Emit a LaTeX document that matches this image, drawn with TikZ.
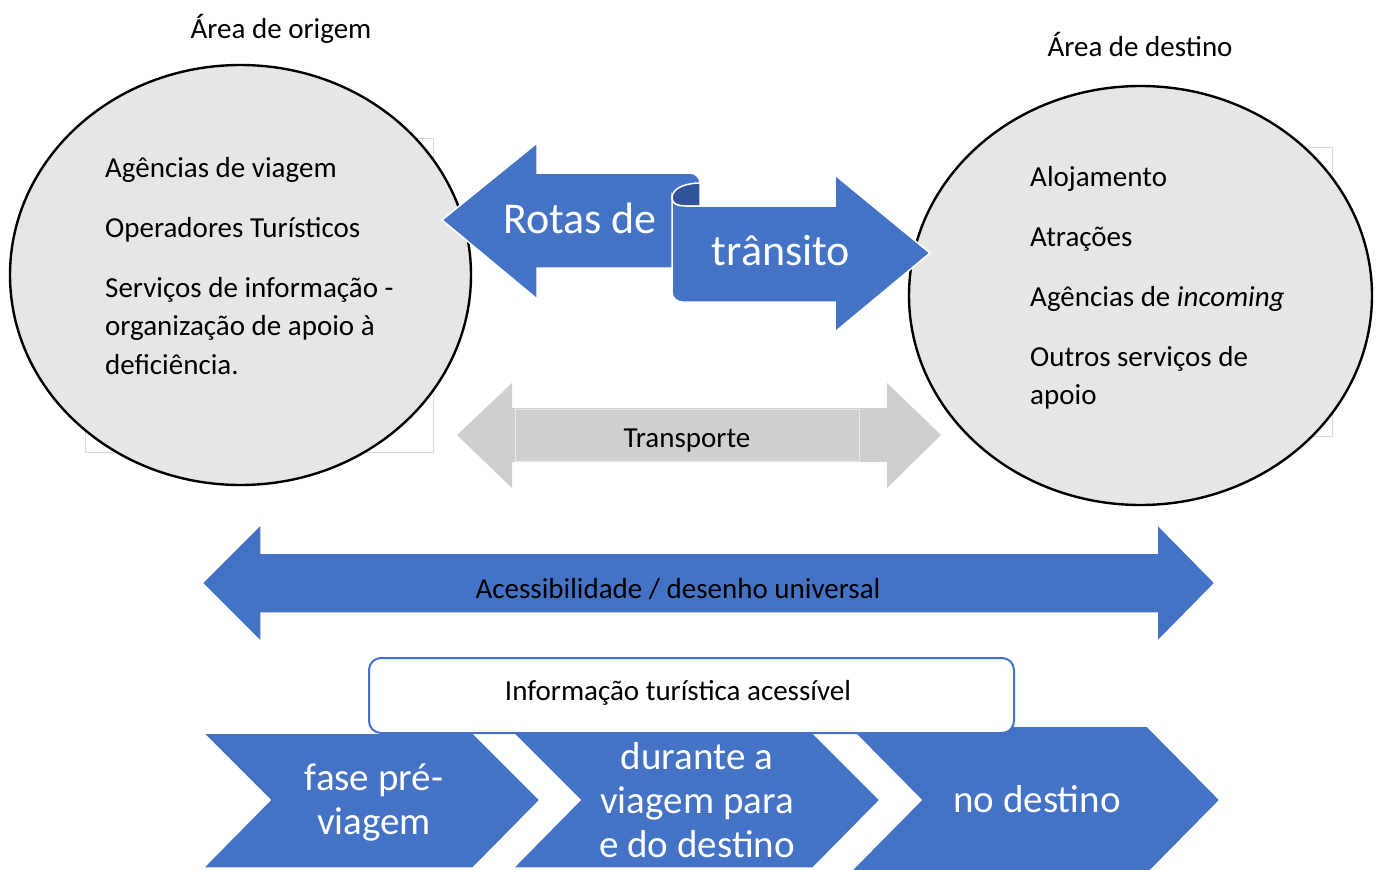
\documentclass[tikz,border=0pt]{standalone}
\usepackage{fontspec}
\setmainfont{Carlito}
\usetikzlibrary{positioning,shapes.geometric,calc}
\definecolor{officeblue}{HTML}{4472C4}
\definecolor{curlblue}{HTML}{30539A}
\definecolor{transgray}{HTML}{D0CECE}
\definecolor{areagray}{HTML}{E7E6E6}
\definecolor{ghostgray}{HTML}{DADADA}

\begin{document}
\begin{tikzpicture}[x=1pt, y=-1pt,
    areadisc/.style={ellipse, draw=black, line width=2.4pt, fill=areagray, inner sep=0pt},
    ghostframe/.style={draw=ghostgray, line width=1pt},
    bluearrow/.style={fill=officeblue, draw=white, line width=1.5pt},
    curlpiece/.style={fill=curlblue, draw=white, line width=1.5pt},
    grayarrow/.style={fill=transgray},
    stepshape/.style={fill=officeblue, draw=white, line width=1.5pt},
    infobox/.style={draw=officeblue, line width=2pt, fill=white, rounded corners=12pt},
    plaintext/.style={font=\fontsize{29}{38}\selectfont, inner sep=0pt},
    item/.style={plaintext, anchor=base west},
    bigtext/.style={font=\fontsize{44}{50}\selectfont, text=white, inner sep=0pt, anchor=base},
    steptext/.style={font=\fontsize{39}{44}\selectfont, text=white, align=center, inner sep=0pt}
]
\useasboundingbox (0,0) rectangle (1379,870);

% the two areas
\draw[ghostframe] (85,138) rectangle (433,452);
\draw[ghostframe] (983,147) rectangle (1332,436);
\node[areadisc, minimum width=461pt, minimum height=420pt] (origem) at (240.5,275) {};
\node[areadisc, minimum width=463pt, minimum height=419pt] (destino) at (1140.5,295.5) {};

\node[plaintext, anchor=base] (origemTitle) at (281,38) {Área de origem};
\node[plaintext, anchor=base] (destinoTitle) at (1140,56) {Área de destino};

\node[item] (agencias) at (105,177) {Agências de viagem};
\node[item] (operadores) at (105,237) {Operadores Turísticos};
\node[item] (servicos) at (105,297) {Serviços de informação -};
\node[item] (organizacao) at (105,335.5) {organização de apoio à};
\node[item] (deficiencia) at (105,374) {deficiência.};

\node[item] (alojamento) at (1030,186) {Alojamento};
\node[item] (atracoes) at (1030,246) {Atrações};
\node[item] (incoming) at (1030,306) {Agências de \textit{incoming}};
\node[item] (outros) at (1030,366) {Outros serviços de};
\node[item] (apoio) at (1030,404.5) {apoio};

% rotas de transito
\draw[bluearrow] (442,220) -- (537,143) -- (537,173) -- (690,173)
    to[out=0,in=90] (700,183) -- (700,268) -- (537,268) -- (537,299) -- cycle;
\draw[curlpiece] (672,198) .. controls (672,187) and (688,183) .. (700,183)
    -- (700,206) -- (686,206) .. controls (676,206) and (672,203) .. (672,198) -- cycle;
\draw[bluearrow] (672,198) .. controls (672,203) and (676,206) .. (686,206)
    -- (835,206) -- (835,175) -- (930,253) -- (835,332) -- (835,302) -- (682,302)
    to[out=180,in=-90] (672,292) -- cycle;
\node[bigtext] (rotas) at (580,233) {Rotas de};
\node[bigtext] (transito) at (781,265) {trânsito};

% transporte
\fill[grayarrow] (457,435) -- (512,383) -- (512,408) -- (887,408) -- (887,383)
    -- (941,435) -- (887,488) -- (887,462) -- (512,462) -- (512,488) -- cycle;
\draw[draw=white!55!transgray, line width=1pt, fill=transgray] (515,409) rectangle (859,461);
\node[plaintext, anchor=base] (transporte) at (687,447) {Transporte};

% acessibilidade
\draw[bluearrow] (202,583) -- (261,524) -- (261,553) -- (1157,553) -- (1157,524)
    -- (1215,583) -- (1157,642) -- (1157,613) -- (261,613) -- (261,642) -- cycle;
\node[plaintext, anchor=base] (acess) at (678,598) {Acessibilidade / desenho universal};

% fases
\foreach \l/\r/\t/\b/\d in {203/540/733/868/67, 513/880/733/868/67, 848/1220/726/874/73}
    \draw[stepshape] (\l,\t) -- ({\r-\d},\t) -- (\r,800) -- ({\r-\d},\b)
        -- (\l,\b) -- ({\l+\d},800) -- cycle;
\node[steptext] (preViagem) at (374,802) {fase pré-\\viagem};
\node[steptext] (duranteViagem) at (697,800) {durante a\\viagem para\\e do destino};
\node[steptext, anchor=base] (noDestino) at (1037,812) {no destino};

\draw[infobox] (369,658) rectangle (1014,733);
\node[plaintext, anchor=base] (info) at (678,700) {Informação turística acessível};
\end{tikzpicture}
\end{document}
